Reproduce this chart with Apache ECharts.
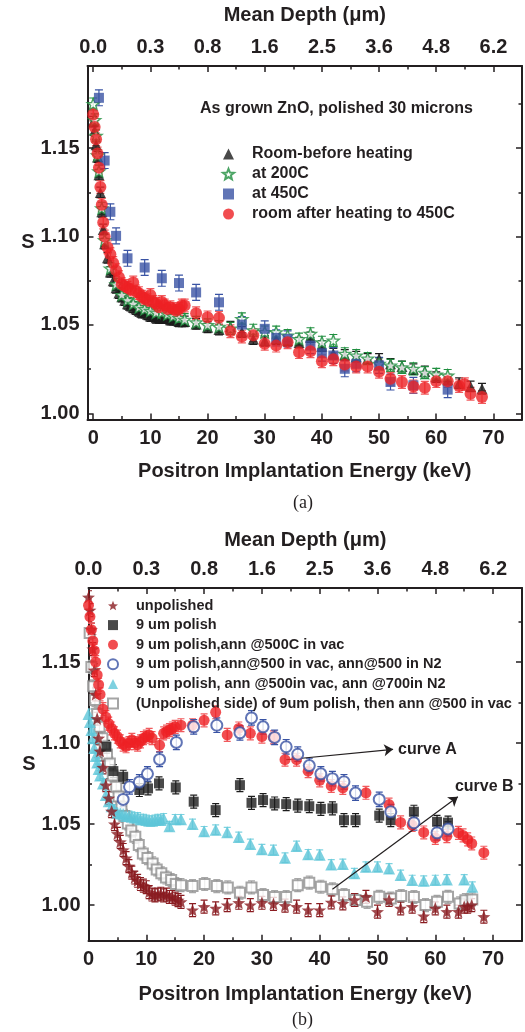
<!DOCTYPE html>
<html><head><meta charset="utf-8">
<script src="https://cdn.jsdelivr.net/npm/echarts@6/dist/echarts.min.js"></script>
<style>html,body{margin:0;padding:0;background:#fff}#c{width:525px;height:1032px}</style>
</head><body><div id="c"></div><script>
// ---------- tick labels ----------
const energyLabels = ['0','10','20','30','40','50','60','70'];
const depthLabels = ['0.0','0.3','0.8','1.6','2.5','3.6','4.8','6.2'];
const sLabels = ['1.00','1.05','1.10','1.15'];

// ---------- panel (a) ----------
const aNames = ['Room-before heating','at 200C','at 450C','room after heating to 450C'];
const aRoomE = [0,0.25,0.5,0.75,1,1.25,1.5,1.75,2,2.5,3,3.5,4,4.5,5,5.5,6,6.5,7,7.5,8,8.5,9,9.5,10,10.5,11,11.5,12,12.5,13,13.5,14,14.5,15,15.5,16,18,20,22,24,26,28,30,32,34,36,38,40,42,44,46,48,50,52,54,56,58,60,62,64,66,68];
const aRoomS = [1.165,1.160,1.152,1.145,1.135,1.125,1.114,1.104,1.096,1.088,1.080,1.075,1.071,1.068,1.066,1.064,1.062,1.061,1.060,1.059,1.058,1.057,1.057,1.056,1.055,1.055,1.054,1.054,1.054,1.054,1.054,1.053,1.053,1.053,1.052,1.052,1.052,1.0506,1.0487,1.0474,1.049,1.046,1.042,1.041,1.042,1.041,1.040,1.043,1.038,1.0337,1.033,1.032,1.0308,1.0308,1.028,1.0265,1.025,1.0237,1.0205,1.019,1.017,1.0152,1.0139];
const aRoomErr = 0.003;
const a200E = [0,0.25,0.5,0.75,1,1.5,2,3,4,5,6,7,8,9,10,11,12,13,14,15,16,18,20,22,24,26,28,30,32,34,36,38,40,42,44,46,48,50,52,54,56,58,60,62];
const a200S = [1.175,1.166,1.157,1.146,1.137,1.116,1.098,1.082,1.073,1.067,1.064,1.062,1.060,1.059,1.058,1.057,1.0571,1.056,1.055,1.054,1.053,1.0515,1.050,1.049,1.048,1.0534,1.047,1.046,1.0459,1.044,1.042,1.045,1.0402,1.0412,1.0337,1.0327,1.031,1.028,1.0271,1.026,1.0252,1.023,1.022,1.0214];
const a200Err = 0.0034;
const a450E = [1,2,3,4,6,9,12,15,18,22,26,30,32,34,38,40,42,44,46,50,52,56,62];
const a450S = [1.1785,1.143,1.114,1.1004,1.0877,1.0825,1.0764,1.0737,1.0684,1.0628,1.0502,1.0478,1.0427,1.0421,1.0383,1.034,1.0327,1.0252,1.028,1.0271,1.0177,1.0158,1.0134];
const a450Err = 0.0045;
const aAfterE = [0,0.25,0.5,0.75,1,1.25,1.5,1.75,2,2.5,3,3.5,4,4.5,5,5.5,6,6.5,7,7.5,8,8.5,9,9.5,10,10.5,11,11.5,12,12.5,13,13.5,14,14.5,15,15.5,16,18,20,22,24,26,28,30,32,34,36,38,40,42,44,46,48,50,52,54,56,58,60,62,64,65,66,68];
const aAfterS = [1.169,1.162,1.155,1.147,1.139,1.128,1.118,1.108,1.100,1.094,1.090,1.085,1.081,1.077,1.073,1.072,1.071,1.070,1.074,1.069,1.068,1.066,1.065,1.064,1.067,1.063,1.062,1.060,1.063,1.061,1.059,1.060,1.059,1.058,1.059,1.061,1.061,1.0566,1.0543,1.054,1.0464,1.0434,1.0442,1.0393,1.0383,1.0402,1.0346,1.0351,1.0295,1.0306,1.0276,1.0265,1.0265,1.0235,1.0196,1.0177,1.0152,1.0145,1.0182,1.0182,1.0154,1.0165,1.0111,1.0092];
const aAfterErr = 0.0036;

// ---------- panel (b) ----------
const bNames = ['unpolished','9 um polish','9 um polish,ann @500C in vac','9 um polish,ann@500 in vac, ann@500 in N2','9 um polish, ann @500in vac, ann @700in N2','(Unpolished side) of 9um polish, then ann @500 in vac'];
const bUnpolE = [0,0.25,0.5,0.75,1,1.25,1.5,1.75,2,2.5,3,3.5,4,4.5,5,5.5,6,6.5,7,7.5,8,8.5,9,9.5,10,10.5,11,11.5,12,12.5,13,13.5,14,14.5,15,15.5,16,18,20,22,24,26,28,30,32,34,36,38,40,42,44,46,48,50,52,54,56,58,60,62,64,65,65.6,66.3,68.4];
const bUnpolS = [1.190,1.182,1.170,1.158,1.145,1.130,1.115,1.103,1.095,1.085,1.074,1.066,1.058,1.050,1.044,1.039,1.034,1.029,1.024,1.020,1.017,1.015,1.013,1.012,1.011,1.008,1.0065,1.006,1.0065,1.007,1.006,1.0065,1.005,1.005,1.004,1.003,1.002,0.9969,0.999,0.998,1.000,1.0014,1.000,1.0014,1.0007,0.9996,0.999,0.9969,0.9969,1.0017,1.001,1.0031,1.0051,0.9959,1.0031,0.998,0.999,0.9932,0.998,0.9959,0.9959,0.999,0.999,1.000,0.9928];
const bUnpolErr = 0.004;
const bPolE = [3.1,4.3,6,8.8,10.3,12.2,15.1,18.2,22,26.2,28.2,30.2,32.2,34.2,36.2,38.2,40.2,42.2,44.2,46.2,50.3,52.3,56.3,60.3,62.2];
const bPolS = [1.0977,1.0827,1.0792,1.071,1.072,1.0751,1.0726,1.0638,1.0586,1.074,1.0631,1.0648,1.0627,1.0623,1.0614,1.061,1.0594,1.0597,1.0524,1.0524,1.0552,1.0524,1.0576,1.0514,1.0509];
const bPolErr = 0.004;
const bAnnE = [0,0.25,0.5,0.75,1,1.25,1.5,1.75,2,2.5,3,3.5,4,4.5,5,5.5,6,6.5,7,7.5,8,8.5,9,9.5,10,10.5,11,12.3,13,13.5,14,14.5,15,16,18,20,22,24,26,28,30,32,34,36,38,40,42,44,48,52,54,56,58,60,62,64,64.8,65.6,66.3,68.4];
const bAnnS = [1.185,1.178,1.170,1.163,1.157,1.150,1.142,1.136,1.130,1.121,1.116,1.112,1.109,1.106,1.104,1.101,1.099,1.098,1.100,1.102,1.100,1.099,1.101,1.103,1.104,1.105,1.103,1.0987,1.106,1.107,1.108,1.109,1.110,1.111,1.111,1.114,1.119,1.105,1.109,1.106,1.104,1.1035,1.0897,1.0897,1.0826,1.077,1.0735,1.0723,1.0693,1.062,1.051,1.0494,1.0448,1.0415,1.0425,1.0446,1.043,1.0405,1.038,1.0323];
const bAnnErr = 0.004;
const bN2E = [6,7.1,8.8,10.2,12.3,15.2,18.2,22.2,26.2,28.2,30.2,32.2,34.2,36.2,38.2,40.2,42.2,44.2,46.2,50.3,52.3,56.3,60.3,62.2];
const bN2S = [1.0652,1.073,1.076,1.081,1.0899,1.1004,1.110,1.111,1.1063,1.1155,1.110,1.1035,1.0977,1.0931,1.0861,1.081,1.078,1.0761,1.0691,1.0652,1.0576,1.0508,1.0446,1.047];
const bN2Err = 0.0045;
const b700E = [0,0.25,0.5,0.75,1,1.25,1.5,1.75,2,2.5,3,3.5,4,4.5,5,5.5,6,6.5,7,7.5,8,8.5,9,9.5,10,10.5,11,11.5,12,12.5,13,14,15,16,18,20,22,24,26,28,30,32,34,36,38,40,42,44,46,48,50,52,54,56,58,60,62,65,66.4];
const b700S = [1.118,1.113,1.108,1.103,1.097,1.092,1.088,1.084,1.080,1.075,1.068,1.064,1.061,1.059,1.057,1.0565,1.056,1.055,1.055,1.0545,1.054,1.054,1.053,1.053,1.0525,1.052,1.052,1.0525,1.053,1.0525,1.0535,1.0487,1.0529,1.0529,1.050,1.0455,1.0465,1.045,1.042,1.0377,1.0344,1.034,1.0292,1.0364,1.0313,1.0311,1.0251,1.0253,1.0196,1.0236,1.0236,1.0226,1.0185,1.0154,1.015,1.0154,1.0158,1.0158,1.0113];
const b700Err = 0.003;
const bSideE = [0.2,0.5,0.8,1.1,1.5,1.9,2.4,2.8,3.2,3.7,4.2,4.8,5.2,5.7,6.2,6.8,7.4,8.1,8.7,9.4,10.2,11.1,11.8,12.6,13.4,14.3,15.1,16,18,20.1,22.2,24.1,26.2,28.2,30.2,32.2,34.2,36.2,38.2,40.2,42.2,44.2,46.2,48.2,50.3,52.3,54.1,56.3,58.3,60.3,62.2,64.2,65.2,66.4];
const bSideS = [1.168,1.147,1.135,1.1265,1.118,1.110,1.103,1.0977,1.093,1.0874,1.080,1.073,1.067,1.0607,1.055,1.0504,1.046,1.0421,1.037,1.0319,1.029,1.0257,1.022,1.0196,1.017,1.0154,1.013,1.0123,1.0117,1.013,1.0117,1.0109,1.0076,1.0109,1.0062,1.005,1.005,1.0123,1.0138,1.0113,1.0097,1.0062,1.0031,1.002,1.0051,1.004,1.0056,1.005,1.000,1.002,1.0051,1.001,1.003,1.0035];
const bSideErr = 0.004;

// annotations (data coordinates)
const curveAFrom = [34.2, 1.0897], curveATo = [52.7, 1.0961];
const curveBFrom = [42.2, 1.0097], curveBTo = [63.9, 1.0668];
const curveBText = [63.4, 1.0734];

// ---------- styling ----------
const FONT = "'Liberation Sans', Arial, Helvetica, sans-serif";
const INK = '#231f20';
const STAR = 'path://M0,-10 L2.6,-3.4 L9.51,-3.09 L4.1,1.3 L5.88,8.09 L0,4.3 L-5.88,8.09 L-4.1,1.3 L-9.51,-3.09 L-2.6,-3.4 Z';

function isMult(v, step) { const k = v / step; return Math.abs(k - Math.round(k)) < 1e-6; }
function energyFmt(v) { return (isMult(v,10) && v >= 0 && v <= 70) ? energyLabels[Math.round(v/10)] : ''; }
function depthFmt(v) { return (isMult(v,10) && v >= 0 && v <= 70) ? depthLabels[Math.round(v/10)] : ''; }
function sFmt(v) { const i = Math.round((v - 1.0) / 0.05); return (isMult(v,0.05) && i >= 0 && i < sLabels.length) ? sLabels[i] : ''; }

const lineStyle = { color: INK, width: 2 };
const labelFont = { fontFamily: FONT, fontWeight: 'bold', fontSize: 20, color: INK };

function xAxisDef(gi, pos, min, max, fmt, name, gap) {
  return {
    type: 'value', gridIndex: gi, position: pos, min: min, max: max, splitNumber: 8,
    axisLine: { show: true, onZero: false, lineStyle },
    axisTick: { show: true, inside: true, length: 6, lineStyle: { color: INK, width: 1.5 } },
    minorTick: { show: true, splitNumber: 2, length: 3.5, lineStyle: { color: INK, width: 1.5 } },
    splitLine: { show: false },
    axisLabel: Object.assign({ formatter: fmt, margin: 9 }, labelFont),
    name: name, nameLocation: 'middle', nameGap: gap, nameMoveOverlap: false,
    nameTextStyle: labelFont
  };
}
function yAxisDef(gi, pos, min, max, withLabels) {
  return {
    type: 'value', gridIndex: gi, position: pos, min: min, max: max, splitNumber: 4,
    axisLine: { show: true, onZero: false, lineStyle },
    axisTick: { show: true, inside: true, length: 6, lineStyle: { color: INK, width: 1.5 } },
    minorTick: { show: true, splitNumber: 2, length: 3.5, lineStyle: { color: INK, width: 1.5 } },
    splitLine: { show: false },
    axisLabel: Object.assign({ show: withLabels, formatter: sFmt, margin: 8 }, labelFont),
    name: withLabels ? 'S' : '', nameLocation: 'middle', nameGap: 53, nameRotate: 0,
    nameMoveOverlap: false,
    nameTextStyle: labelFont
  };
}

function pts(E, S) { return E.map((e, i) => [e, S[i]]); }
function errBars(ax, E, S, err, color, cap) {
  return {
    type: 'custom', xAxisIndex: ax[0], yAxisIndex: ax[1], silent: true, z: 1, clip: true,
    data: E.map((e, i) => [e, S[i] - err, S[i] + err]),
    renderItem: function (params, api) {
      const lo = api.coord([api.value(0), api.value(1)]);
      const hi = api.coord([api.value(0), api.value(2)]);
      const h = cap / 2, st = { stroke: color, lineWidth: 1.2 };
      return { type: 'group', children: [
        { type: 'line', shape: { x1: lo[0], y1: lo[1], x2: hi[0], y2: hi[1] }, style: st },
        { type: 'line', shape: { x1: lo[0]-h, y1: lo[1], x2: lo[0]+h, y2: lo[1] }, style: st },
        { type: 'line', shape: { x1: hi[0]-h, y1: hi[1], x2: hi[0]+h, y2: hi[1] }, style: st }
      ]};
    }
  };
}
function scat(ax, name, E, S, symbol, size, itemStyle, z) {
  return { type: 'scatter', name: name, xAxisIndex: ax[0], yAxisIndex: ax[1], symbol: symbol,
    symbolSize: size, symbolKeepAspect: true, itemStyle: itemStyle, z: z || 3, data: pts(E, S) };
}

const A = [0, 0], B = [2, 2];
const cBlack = '#1c1c1c', cGreen = '#1f8f3f', cBlue = '#3953a4', cRed = '#ed2024',
      cMaroon = '#8a1c21', cCyan = '#5ec6d8', cGray = '#8f8f8f';

const series = [
  errBars(A, aRoomE, aRoomS, aRoomErr, cBlack, 8),
  errBars(A, a200E, a200S, a200Err, cGreen, 8),
  errBars(A, a450E, a450S, a450Err, cBlue, 8),
  errBars(A, aAfterE, aAfterS, aAfterErr, '#f05a5d', 8),
  scat(A, aNames[0], aRoomE, aRoomS, 'triangle', 11, { color: cBlack }, 3),
  scat(A, aNames[1], a200E, a200S, STAR, 12, { color: '#ffffff', borderColor: cGreen, borderWidth: 1.4 }, 4),
  scat(A, aNames[2], a450E, a450S, 'rect', 10, { color: cBlue }, 5),
  scat(A, aNames[3], aAfterE, aAfterS, 'circle', 12, { color: cRed }, 6),

  errBars(B, bSideE, bSideS, bSideErr, '#a8a8a8', 7),
  errBars(B, bUnpolE, bUnpolS, bUnpolErr, cMaroon, 7),
  errBars(B, bPolE, bPolS, bPolErr, cBlack, 7),
  errBars(B, bAnnE, bAnnS, bAnnErr, '#f05a5d', 7),
  errBars(B, bN2E, bN2S, bN2Err, cBlue, 7),
  errBars(B, b700E, b700S, b700Err, '#7fd3e0', 7),
  scat(B, bNames[5], bSideE, bSideS, 'emptyRect', 10, { color: cGray, borderWidth: 1.3 }, 3),
  scat(B, bNames[0], bUnpolE, bUnpolS, STAR, 13, { color: cMaroon }, 4),
  scat(B, bNames[1], bPolE, bPolS, 'rect', 10, { color: cBlack }, 4),
  Object.assign(scat(B, bNames[2], bAnnE, bAnnS, 'circle', 11, { color: cRed }, 5), {
    markLine: {
      silent: true, symbol: ['none', 'arrow'], symbolSize: 9,
      lineStyle: { color: INK, width: 1.2, type: 'solid' }, label: { show: false },
      data: [[{ coord: curveAFrom }, { coord: curveATo }], [{ coord: curveBFrom }, { coord: curveBTo }]]
    },
    markPoint: {
      silent: true, symbol: 'circle', symbolSize: 0,
      label: { show: true, position: 'right', formatter: '{b}', fontFamily: FONT, fontWeight: 'bold', fontSize: 16, color: INK },
      data: [{ name: 'curve A', coord: curveATo, label: { distance: 5 } },
             { name: 'curve B', coord: curveBText, label: { distance: 0 } }]
    }
  }),
  scat(B, bNames[3], bN2E, bN2S, 'emptyCircle', 11, { color: cBlue, borderWidth: 1.3 }, 6),
  scat(B, bNames[4], b700E, b700S, 'triangle', 12, { color: cCyan }, 3)
];

const chart = echarts.init(document.getElementById('c'), null, { renderer: 'canvas' });
chart.setOption({
  animation: false,
  backgroundColor: '#ffffff',
  title: [
    { text: 'As grown ZnO, polished 30 microns', left: 195, top: 96,
      textStyle: { fontFamily: FONT, fontWeight: 'bold', fontSize: 16, color: INK } },
    { text: '(a)', left: 288, top: 489, textStyle: { fontFamily: "'Liberation Serif', 'DejaVu Serif', serif", fontWeight: 'normal', fontSize: 18, color: INK } },
    { text: '(b)', left: 287, top: 1006, textStyle: { fontFamily: "'Liberation Serif', 'DejaVu Serif', serif", fontWeight: 'normal', fontSize: 18, color: INK } }
  ],
  legend: [
    { data: aNames, orient: 'vertical', left: 222, top: 146, itemWidth: 11, itemHeight: 11, itemGap: 4,
      padding: 0, selectedMode: false,
      textStyle: { fontFamily: FONT, fontWeight: 'bold', fontSize: 16, color: INK, padding: [0, 0, 0, 13] } },
    { data: bNames, orient: 'vertical', left: 107, top: 598, itemWidth: 10, itemHeight: 10, itemGap: 4.6,
      padding: 0, selectedMode: false,
      textStyle: { fontFamily: FONT, fontWeight: 'bold', fontSize: 14.5, color: INK, padding: [0, 0, 0, 13] } }
  ],
  grid: [
    { left: 87.5, right: 1, top: 66, bottom: 612.5, containLabel: false },
    { left: 88.5, right: 1, top: 588, bottom: 91.3, containLabel: false }
  ],
  xAxis: [
    xAxisDef(0, 'bottom', -1, 75, energyFmt, 'Positron Implantation Energy (keV)', 42),
    xAxisDef(0, 'top', -1, 75, depthFmt, 'Mean Depth (\u03bcm)', 41),
    xAxisDef(1, 'bottom', 0, 75, energyFmt, 'Positron Implantation Energy (keV)', 44),
    xAxisDef(1, 'top', 0, 75, depthFmt, 'Mean Depth (\u03bcm)', 38)
  ],
  yAxis: [
    yAxisDef(0, 'left', 0.9965, 1.1965, true),
    yAxisDef(0, 'right', 0.9965, 1.1965, false),
    yAxisDef(1, 'left', 0.978, 1.1957, true),
    yAxisDef(1, 'right', 0.978, 1.1957, false)
  ],
  series: series
});
</script></body></html>
